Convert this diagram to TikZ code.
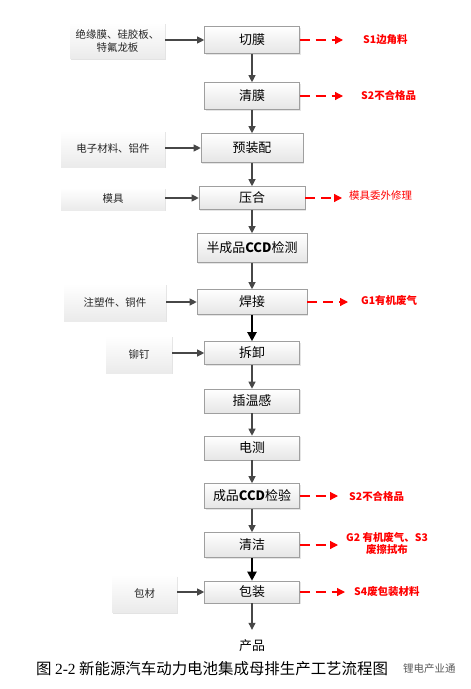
\documentclass[tikz,border=0pt]{standalone}
\usepackage{fontspec}
\newfontfamily\cjk{Noto Sans CJK SC}
\newfontfamily\serifroman{Liberation Serif}
\usetikzlibrary{shadows,arrows.meta}
\definecolor{wastered}{RGB}{255,0,0}
\tikzset{
  mainbox/.style={draw=gray!75, line width=0.6pt, top color=white, bottom color=gray!20,
    inner sep=0pt, font=\cjk\fontsize{13}{15}\selectfont,
    drop shadow={shadow xshift=1.2pt, shadow yshift=-1.2pt, opacity=0.2, fill=gray}},
  inbox/.style={top color=white, bottom color=gray!16, inner sep=0pt, align=center,
    font=\cjk\fontsize{10.5}{13}\selectfont, text=black!85,
    drop shadow={shadow xshift=1.5pt, shadow yshift=-1.5pt, opacity=0.22, fill=gray}},
  flow/.style={draw=black!72, line width=1.1pt, -{Triangle[length=7pt,width=7pt]}},
  boldflow/.style={draw=black, line width=2pt, -{Triangle[length=9pt,width=9pt]}},
  waste/.style={color=wastered, line width=1.2pt, dash pattern=on 10pt off 6pt,
    -{Triangle[length=8pt,width=8pt]}},
  wastelab/.style={text=wastered, font=\cjk\bfseries\fontsize{10.5}{13}\selectfont,
    anchor=west, inner sep=0pt},
}
\begin{document}
\begin{tikzpicture}[x=1bp, y=-1bp]
\useasboundingbox (0,0) rectangle (471,689);
\fill[white] (0,0) rectangle (471,689);

% main column
\node[mainbox, minimum width=95bp, minimum height=27bp] (m1) at (252,40) {切膜};
\node[mainbox, minimum width=95bp, minimum height=27bp] (m2) at (252,96) {清膜};
\node[mainbox, minimum width=102bp, minimum height=29bp] (m3) at (252,148) {预装配};
\node[mainbox, minimum width=106bp, minimum height=23bp] (m4) at (252,198) {压合};
\node[mainbox, minimum width=110bp, minimum height=29bp] (m5) at (252,248) {半成品{\bfseries CCD}检测};
\node[mainbox, minimum width=110bp, minimum height=25bp] (m6) at (252,302) {焊接};
\node[mainbox, minimum width=95bp, minimum height=23bp] (m7) at (252,353) {拆卸};
\node[mainbox, minimum width=95bp, minimum height=24bp] (m8) at (252,401) {插温感};
\node[mainbox, minimum width=95bp, minimum height=24bp] (m9) at (252,448) {电测};
\node[mainbox, minimum width=95bp, minimum height=25bp] (m10) at (252,496) {成品{\bfseries CCD}检验};
\node[mainbox, minimum width=95bp, minimum height=25bp] (m11) at (252,545) {清洁};
\node[mainbox, minimum width=95bp, minimum height=22bp] (m12) at (252,592) {包装};
\node[inner sep=0pt, minimum height=32bp, font=\cjk\fontsize{13}{15}\selectfont] (prod) at (252,646) {产品};

% inputs
\node[inbox, minimum width=95bp, minimum height=36bp] (l1) at (117.5,41) {绝缘膜、硅胶板、\\特氟龙板};
\node[inbox, minimum width=104bp, minimum height=36bp] (l2) at (113,149) {电子材料、铝件};
\node[inbox, minimum width=104bp, minimum height=22bp] (l3) at (113,199) {模具};
\node[inbox, minimum width=102bp, minimum height=37bp] (l4) at (115,302.5) {注塑件、铜件};
\node[inbox, minimum width=66bp, minimum height=37bp] (l5) at (139,354.5) {铆钉};
\node[inbox, minimum width=65bp, minimum height=37bp] (l6) at (144.5,593.5) {包材};

% vertical flow
\draw[flow] (m1.south) -- (m2.north);
\draw[flow] (m2.south) -- (m3.north);
\draw[flow] (m3.south) -- (m4.north);
\draw[flow] (m4.south) -- (m5.north);
\draw[flow] (m5.south) -- (m6.north);
\draw[boldflow] (m6.south) -- (m7.north);
\draw[flow] (m7.south) -- (m8.north);
\draw[flow] (m8.south) -- (m9.north);
\draw[flow] (m9.south) -- (m10.north);
\draw[flow] (m10.south) -- (m11.north);
\draw[boldflow] (m11.south) -- (m12.north);
\draw[flow] (m12.south) -- (prod.north);

% input arrows
\draw[flow] (l1.east |- m1) -- (m1.west);
\draw[flow] (l2.east |- m3) -- (m3.west);
\draw[flow] (l3.east |- m4) -- (m4.west);
\draw[flow] (l4.east |- m6) -- (m6.west);
\draw[flow] (l5.east |- m7) -- (m7.west);
\draw[flow] (l6.east |- m12) -- (m12.west);

% waste outputs
\coordinate (e1) at (343,40);
\coordinate (e2) at (343,96);
\coordinate (e4) at (342,198);
\coordinate (e6) at (348,302);
\coordinate (e10) at (338,496);
\coordinate (e11) at (338,545);
\coordinate (e12) at (345,592);
\draw[waste] (m1.east) -- (e1);
\draw[waste] (m2.east) -- (e2);
\draw[waste] (m4.east) -- (e4);
\draw[waste] (m6.east) -- (e6);
\draw[waste] (m10.east) -- (e10);
\draw[waste] (m11.east) -- (e11);
\draw[waste] (m12.east) -- (e12);
\node[wastelab] (w1) at (363,39.5) {S1边角料};
\node[wastelab] (w2) at (361,95.5) {S2不合格品};
\node[wastelab, font=\cjk\fontsize{10.5}{13}\selectfont] (w4) at (349,196) {模具委外修理};
\node[wastelab] (w6) at (361,301) {G1有机废气};
\node[wastelab] (w10) at (349,496) {S2不合格品};
\node[wastelab, anchor=center, align=center] (w11) at (387,543.5) {G2 有机废气、S3\\废擦拭布};
\node[wastelab] (w12) at (354,592) {S4废包装材料};

% caption
\node[anchor=west, inner sep=0pt, font=\cjk\fontsize{15.5}{18}\selectfont] (cap) at (36,669)
  {图 {\serifroman 2-2} 新能源汽车动力电池集成母排生产工艺流程图};
\node[anchor=west, inner sep=0pt, text=black!65, font=\cjk\fontsize{10.5}{12}\selectfont] (wm) at (403,669) {锂电产业通};
\end{tikzpicture}
\end{document}
